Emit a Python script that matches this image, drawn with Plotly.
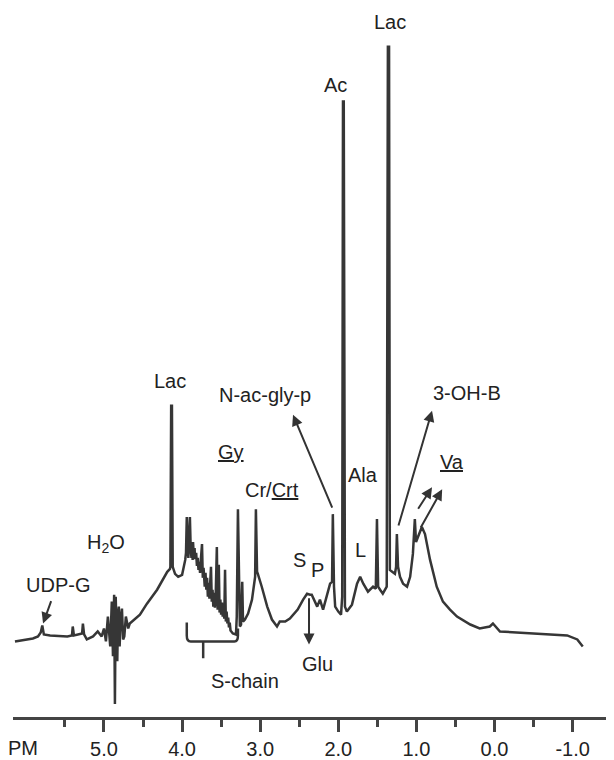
import plotly.graph_objects as go

# 1H NMR spectrum (chemical shift in ppm, intensity in arbitrary units)
ppm = [6.14, 5.91, 5.845, 5.81, 5.79, 5.77, 5.69, 5.56, 5.47, 5.41, 5.40, 5.385, 5.31, 5.28, 5.27, 5.255,
       5.22, 5.14, 5.08, 5.03,
       5.00, 4.975, 4.95, 4.935, 4.92, 4.90, 4.885, 4.87, 4.86, 4.85, 4.84, 4.83, 4.82, 4.81, 4.80, 4.785,
       4.77, 4.755, 4.74, 4.72, 4.69, 4.67,
       4.54, 4.45, 4.32, 4.245, 4.19, 4.155, 4.15, 4.14, 4.13, 4.12, 4.09, 4.05, 4.00,
       3.96, 3.95, 3.94, 3.93, 3.92, 3.91, 3.90, 3.89, 3.88, 3.875, 3.865, 3.86, 3.85, 3.84, 3.835, 3.82,
       3.81, 3.80, 3.79, 3.78, 3.77, 3.76, 3.745, 3.735, 3.725, 3.71, 3.70, 3.69, 3.68, 3.67, 3.66, 3.65,
       3.64, 3.63, 3.62, 3.61, 3.60, 3.59, 3.58, 3.57, 3.555, 3.545, 3.53, 3.52, 3.51, 3.50, 3.49, 3.48,
       3.47, 3.46, 3.45, 3.44, 3.43, 3.42, 3.41, 3.40, 3.39, 3.38, 3.36, 3.35, 3.31,
       3.30, 3.285, 3.27, 3.26, 3.245, 3.23, 3.22, 3.195, 3.155, 3.105, 3.065, 3.055, 3.04, 3.03,
       2.98, 2.91, 2.85, 2.785, 2.75, 2.68, 2.62, 2.52, 2.45, 2.40, 2.36, 2.34, 2.27, 2.235, 2.195, 2.145,
       2.105, 2.08, 2.07, 2.055, 2.04, 2.00, 1.965, 1.95, 1.94, 1.93, 1.915, 1.89, 1.825, 1.76, 1.72, 1.68,
       1.62, 1.555, 1.52, 1.505, 1.49, 1.465, 1.43, 1.38, 1.365, 1.35, 1.34, 1.31, 1.275, 1.26, 1.25, 1.235,
       1.21, 1.17, 1.12, 1.08, 1.045, 1.02, 1.005, 0.98, 0.93, 0.89, 0.825, 0.74, 0.66, 0.57, 0.48, 0.31,
       0.19, 0.06, 0.02, -0.07, -0.26, -0.45, -0.71, -0.93, -1.06, -1.13]
intensity = [76, 79, 81, 85, 92, 83, 82, 81, 81, 82, 91, 82, 83, 84, 94, 83,
             78, 81, 86, 81,
             89, 76, 101, 80, 71, 116, 61, 123, 13, 121, 70, 56, 104, 111, 71, 100,
             109, 78, 81, 101, 89, 94,
             103, 114, 128, 139, 146, 149, 151, 313, 313, 151, 144, 141, 143,
             158, 165, 201, 168, 160, 175, 201, 170, 160, 176, 158, 176, 162, 170, 159, 165,
             152, 160, 148, 156, 145, 158, 174, 140, 150, 131, 145, 128, 140, 121, 135, 119,
             132, 151, 116, 128, 111, 125, 110, 122, 171, 108, 153, 105, 118, 103, 115, 101,
             112, 99, 148, 96, 106, 94, 100, 90, 95, 87, 85, 84, 83,
             101, 209, 101, 91, 93, 136, 96, 98, 104, 118, 141, 209, 146, 144,
             131, 111, 98, 91, 96, 96, 99, 108, 118, 124, 123, 123, 111, 118, 108, 121,
             134, 136, 204, 131, 111, 106, 103, 121, 619, 619, 111, 106, 113, 134, 141, 134,
             126, 131, 129, 199, 131, 128, 124, 131, 674, 674, 148, 146, 144, 151, 184, 151,
             141, 134, 131, 141, 164, 199, 176, 181, 191, 184, 158, 131, 116, 108, 101, 93,
             89, 91, 94, 86, 85, 84, 83, 82, 78, 71]

# axis ticks
major_ticks = [5.0, 4.0, 3.0, 2.0, 1.0, 0.0, -1.0]
major_labels = ["5.0", "4.0", "3.0", "2.0", "1.0", "0.0", "-1.0"]
minor_ticks = [5.5, 4.5, 3.5, 2.5, 1.5, 0.5, -0.5, -1.5]

# peak labels: (text, ppm, intensity)
labels = [
    ("Lac", 1.34, 699),
    ("Ac", 2.03, 636),
    ("Lac", 4.15, 338),
    ("N-ac-gly-p", 2.94, 324),
    ("3-OH-B", 0.35, 326),
    ("<u>Gy</u>", 3.37, 266),
    ("<u>Va</u>", 0.54, 256),
    ("Cr/<u>Crt</u>", 2.85, 228),
    ("Ala", 1.68, 243),
    ("H<sub>2</sub>O", 4.97, 174),
    ("L", 1.72, 168),
    ("S", 2.50, 158),
    ("P", 2.26, 148),
    ("UDP-G", 5.59, 133),
    ("Glu", 2.27, 53),
    ("S-chain", 3.19, 36),
]

# arrows: (head ppm, head intensity, tail ppm, tail intensity)
arrows = [
    (2.58, 304, 2.07, 209),
    (0.80, 308, 1.235, 191),
    (0.80, 231, 0.99, 208),
    (0.67, 229, 0.955, 189),
    (2.375, 73, 2.375, 121),
    (5.78, 94, 5.67, 118),
]

FONT = "Liberation Sans, Arial, sans-serif"
INK = "#363636"

fig = go.Figure()
fig.add_trace(go.Scatter(x=ppm, y=intensity, mode="lines",
                         line=dict(color=INK, width=2.5), hoverinfo="skip", showlegend=False))

for text, x, y in labels:
    fig.add_annotation(x=x, y=y, xref="x", yref="y", text=text, showarrow=False,
                       font=dict(family=FONT, size=20, color="#222222"),
                       xanchor="center", yanchor="middle")

for hx, hy, tx, ty in arrows:
    fig.add_annotation(x=hx, y=hy, ax=tx, ay=ty, xref="x", yref="y", axref="x", ayref="y",
                       text="", showarrow=True, arrowhead=2, arrowsize=1.1, arrowwidth=2,
                       arrowcolor="#333333", standoff=0, startstandoff=0)

# S-chain bracket
fig.add_shape(type="path", xref="x", yref="y",
              path="M 3.94,95 L 3.94,82 Q 3.94,76 3.89,76 L 3.33,76 Q 3.285,76 3.285,82 L 3.285,89 "
                   "M 3.73,76 L 3.73,59",
              line=dict(color=INK, width=2.5))

# "PPM" axis label, cut at the left edge
fig.add_annotation(x=6.04, y=0, xref="x", yref="paper", text="PM", showarrow=False,
                   yanchor="top", yshift=-18, font=dict(family=FONT, size=20, color="#222222"))

fig.update_xaxes(range=[6.165, -1.53], showgrid=False, zeroline=False,
                 showline=True, linecolor="#444444", linewidth=3,
                 ticks="outside", ticklen=12, tickwidth=2.5, tickcolor="#444444",
                 tickmode="array", tickvals=major_ticks, ticktext=major_labels,
                 tickfont=dict(family=FONT, size=20, color="#222222"),
                 minor=dict(tickmode="array", tickvals=minor_ticks, ticks="outside",
                            ticklen=7, tickwidth=2.5, tickcolor="#444444", showgrid=False))
fig.update_yaxes(visible=False, range=[0, 713])

# the page body adds an 8 px margin, so the figure is 8 px smaller than the window
fig.update_layout(width=606, height=752, margin=dict(l=5, r=0, t=0, b=39),
                  paper_bgcolor="white", plot_bgcolor="white", showlegend=False)

fig.write_html("out.html")
